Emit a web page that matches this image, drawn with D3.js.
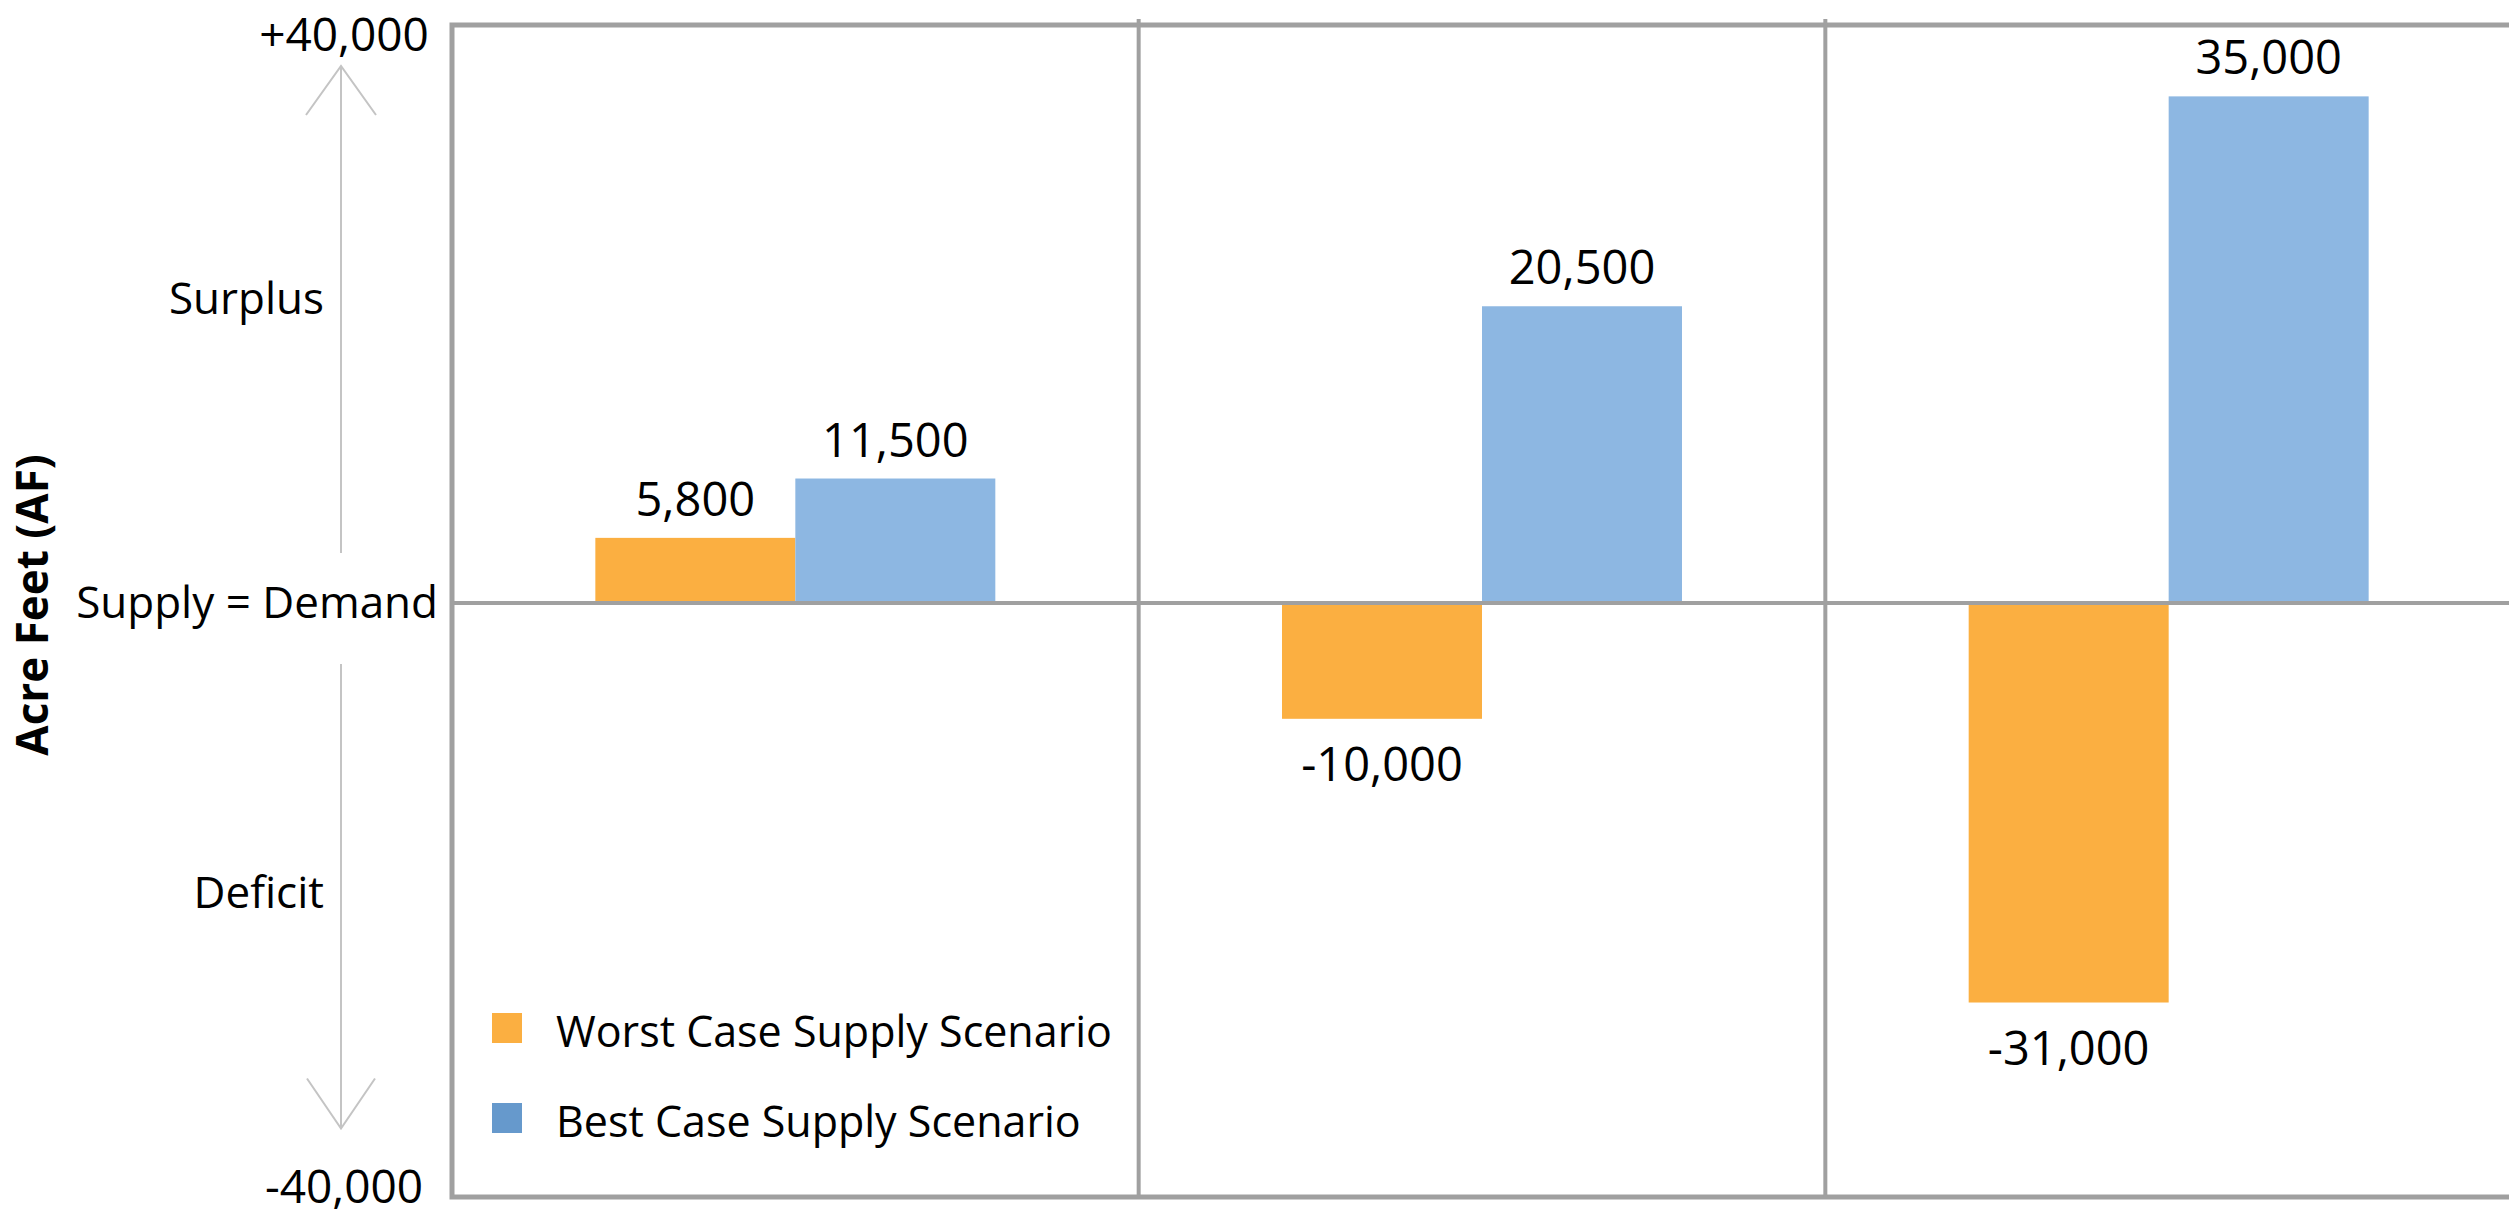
<!DOCTYPE html>
<html>
<head>
<meta charset="utf-8">
<script src="https://cdn.jsdelivr.net/npm/d3@7"></script>
<style>
  html, body { margin: 0; padding: 0; background: #fff; overflow: hidden; }
  svg { display: block; font-family: "Open Sans", sans-serif; }
</style>
</head>
<body>
<svg id="chart"></svg>
<script>
// data (bar heights as drawn, labels as printed)
const categories = ["Group 1", "Group 2", "Group 3"];
const series = ["Worst Case Supply Scenario", "Best Case Supply Scenario"];
const worstValues = [4500, -8000, -27600];
const bestValues = [8600, 20500, 35000];
const worstLabels = ["5,800", "-10,000", "-31,000"];
const bestLabels = ["11,500", "20,500", "35,000"];
const yTickValues = [40000, -40000];
const yTickLabels = ["+40,000", "-40,000"];
const regionLabels = ["Surplus", "Supply = Demand", "Deficit"];
const regionValues = [21000, 0, -20000];

const width = 2509, height = 1218;
const plot = { left: 452, right: 2514, top: 25, bottom: 1197 };
const barColors = ["#fbaf41", "#8db7e2"];
const legendColors = ["#fbaf41", "#6699cc"];
const frameColor = "#a0a0a0";

const svg = d3.select("#chart")
    .attr("width", width)
    .attr("height", height)
    .attr("viewBox", `0 0 ${width} ${height}`);

const x0 = d3.scaleBand()
    .domain(categories)
    .range([plot.left, 2512])
    .paddingInner(0.4175)
    .paddingOuter(0.20875);

const x1 = d3.scaleBand()
    .domain(series)
    .range([0, x0.bandwidth()]);

const y = d3.scaleLinear()
    .domain([-40000, 40000])
    .range([1182, 24]);

const rows = categories.map((c, i) => ({
    key: c,
    values: [
        { series: series[0], value: worstValues[i], label: worstLabels[i], color: barColors[0] },
        { series: series[1], value: bestValues[i], label: bestLabels[i], color: barColors[1] }
    ]
}));

// frame and dividers
const frame = svg.append("g").attr("class", "frame")
    .attr("stroke", frameColor)
    .attr("stroke-width", 5)
    .attr("fill", "none");

frame.append("rect")
    .attr("x", plot.left)
    .attr("y", plot.top)
    .attr("width", plot.right - plot.left)
    .attr("height", plot.bottom - plot.top);

frame.selectAll("line.divider")
    .data(categories.slice(1))
    .join("line")
        .attr("class", "divider")
        .attr("stroke-width", 4)
        .attr("x1", d => x0(d) - x0.step() * x0.paddingInner() / 2)
        .attr("x2", d => x0(d) - x0.step() * x0.paddingInner() / 2)
        .attr("y1", plot.top - 6)
        .attr("y2", plot.bottom);

// bars
const groups = svg.append("g").attr("class", "bars")
    .selectAll("g")
    .data(rows)
    .join("g")
        .attr("transform", d => `translate(${x0(d.key)},0)`);

groups.selectAll("rect")
    .data(d => d.values)
    .join("rect")
        .attr("x", d => x1(d.series))
        .attr("width", x1.bandwidth())
        .attr("y", d => y(Math.max(0, d.value)))
        .attr("height", d => Math.abs(y(d.value) - y(0)))
        .attr("fill", d => d.color);

groups.selectAll("text")
    .data(d => d.values)
    .join("text")
        .attr("x", d => x1(d.series) + x1.bandwidth() / 2)
        .attr("y", d => d.value >= 0 ? y(d.value) - 22 : y(d.value) + 62)
        .attr("text-anchor", "middle")
        .attr("font-size", 47)
        .attr("fill", "#000")
        .text(d => d.label);

// zero line
svg.append("line")
    .attr("x1", plot.left)
    .attr("x2", width)
    .attr("y1", y(0))
    .attr("y2", y(0))
    .attr("stroke", frameColor)
    .attr("stroke-width", 4);

// y axis end labels
const axis = d3.axisLeft(y)
    .tickValues(yTickValues)
    .tickFormat((d, i) => yTickLabels[i])
    .tickSize(0);

const axisGroup = svg.append("g")
    .attr("class", "axis y")
    .attr("transform", "translate(344,0)")
    .call(axis);

axisGroup.select(".domain").remove();
axisGroup.selectAll("text")
    .attr("x", 0)
    .attr("dy", (d, i) => i === 0 ? "0.58em" : "0.45em")
    .attr("text-anchor", "middle")
    .attr("font-size", 46)
    .attr("font-family", "Open Sans")
    .attr("fill", "#000");

// arrows
const arrowX = 341;
const arrows = svg.append("g")
    .attr("stroke", "#c4c4c4")
    .attr("stroke-width", 2)
    .attr("fill", "none");

arrows.append("path")
    .attr("d", `M${arrowX},${y(0) - 50}V${y(37100)}M${arrowX - 35},${y(37100) + 49}L${arrowX},${y(37100)}L${arrowX + 35},${y(37100) + 49}`);

arrows.append("path")
    .attr("d", `M${arrowX},${y(0) + 61}V${y(-36300)}M${arrowX - 34},${y(-36300) - 50}L${arrowX},${y(-36300)}L${arrowX + 34},${y(-36300) - 50}`);

// region labels
svg.append("g")
    .selectAll("text")
    .data(regionLabels)
    .join("text")
        .attr("x", (d, i) => i === 1 ? 438 : 324)
        .attr("y", (d, i) => y(regionValues[i]))
        .attr("dy", "0.35em")
        .attr("text-anchor", "end")
        .attr("font-size", 44)
        .attr("fill", "#000")
        .text(d => d);

// y title
svg.append("text")
    .attr("transform", `translate(48,${y(0) + 2}) rotate(-90)`)
    .attr("text-anchor", "middle")
    .attr("font-size", 44)
    .attr("font-weight", "bold")
    .attr("fill", "#000")
    .text("Acre Feet (AF)");

// legend
const legend = svg.append("g")
    .attr("class", "legend")
    .attr("transform", "translate(492,1028)");

const items = legend.selectAll("g")
    .data(series)
    .join("g")
        .attr("transform", (d, i) => `translate(0,${i * 90})`);

items.append("rect")
    .attr("x", 0)
    .attr("y", -15)
    .attr("width", 30)
    .attr("height", 30)
    .attr("fill", (d, i) => legendColors[i]);

items.append("text")
    .attr("x", 64)
    .attr("y", 19)
    .attr("font-size", 43)
    .attr("fill", "#000")
    .text(d => d);
</script>
</body>
</html>
